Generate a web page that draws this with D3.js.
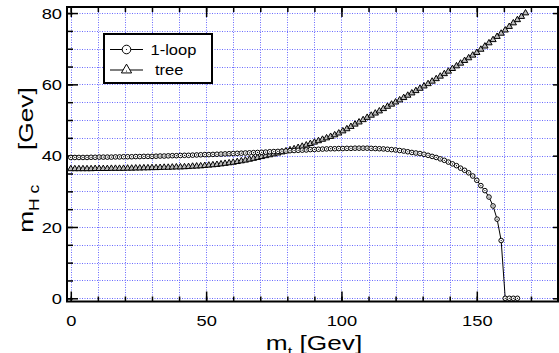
<!DOCTYPE html>
<html>
<head>
<meta charset="utf-8">
<script src="https://cdn.jsdelivr.net/npm/d3@7"></script>
<style>
  body { margin: 0; background: #fff; }
  svg { display: block; }
  text { font-family: "Liberation Sans", Arial, sans-serif; fill: #000; }
</style>
</head>
<body>
<div id="chart"></div>
<script>
// top mass values (x), shared by both curves
var mT = [0,1.5,3,4.5,6,7.5,9,10.5,12,13.5,15,16.5,18,19.5,21,22.5,24,25.5,27,28.5,
  30,31.5,33,34.5,36,37.5,39,40.5,42,43.5,45,46.5,48,49.5,51,52.5,54,55.5,57,58.5,
  60,61.5,63,64.5,66,67.5,69,70.5,72,73.5,75,76.5,78,79.5,81,82.5,84,85.5,87,88.5,
  90,91.5,93,94.5,96,97.5,99,100.5,102,103.5,105,106.5,108,109.5,111,112.5,114,115.5,117,118.5,
  120,121.5,123,124.5,126,127.5,129,130.5,132,133.5,135,136.5,138,139.5,141,142.5,144,145.5,147,148.5,
  150,151.5,153,154.5,156,157.5,159,160.5,162,163.5,165,166.5,168];

// 1-loop m_Hc
var loopVals = [39.5,39.5,39.5,39.5,39.5,39.55,39.55,39.6,39.6,39.6,
  39.6,39.65,39.65,39.7,39.7,39.7,39.75,39.75,39.8,39.8,
  39.8,39.85,39.9,39.9,39.95,40.0,40.0,40.05,40.1,40.1,
  40.15,40.2,40.25,40.3,40.3,40.35,40.4,40.45,40.5,40.55,
  40.6,40.65,40.7,40.75,40.8,40.85,40.9,40.95,41.0,41.1,
  41.15,41.2,41.25,41.3,41.4,41.45,41.5,41.55,41.6,41.7,
  41.75,41.8,41.85,41.9,41.95,41.95,42.0,42.0,42.05,42.05,
  42.1,42.1,42.1,42.1,42.05,42.0,41.95,41.9,41.8,41.7,
  41.6,41.45,41.3,41.1,40.9,40.75,40.6,40.4,40.1,39.8,
  39.5,39.1,38.7,38.2,37.7,37.2,36.5,35.9,35.2,34.3,
  33.1,31.6,30.2,28.4,25.9,22.2,16.2,0,0,0,
  0];

// tree level m_Hc
var treeVals = [36.3,36.3,36.3,36.3,36.3,36.3,36.35,36.35,36.35,36.35,
  36.4,36.4,36.4,36.4,36.45,36.45,36.5,36.5,36.55,36.55,
  36.6,36.6,36.65,36.7,36.7,36.75,36.8,36.8,36.85,36.9,
  37.0,37.05,37.1,37.2,37.3,37.4,37.5,37.65,37.8,37.95,
  38.1,38.3,38.5,38.7,38.95,39.2,39.45,39.7,39.95,40.2,
  40.45,40.7,41.0,41.3,41.6,41.9,42.25,42.6,42.95,43.35,
  43.75,44.15,44.55,44.95,45.35,45.8,46.3,46.9,47.5,48.15,
  48.8,49.4,50.05,50.7,51.3,51.9,52.5,53.15,53.8,54.4,
  55.0,55.6,56.25,56.9,57.55,58.2,58.85,59.5,60.15,60.85,
  61.55,62.25,62.95,63.65,64.4,65.15,65.9,66.65,67.4,68.15,
  68.9,69.8,70.7,71.6,72.5,73.4,74.3,75.2,76.2,77.2,
  78.1,79.0,80.0];

var xMajorTicks = [0, 50, 100, 150];
var xMinorTicks = [0,10,20,30,40,50,60,70,80,90,100,110,120,130,140,150,160,170];
var yMajorTicks = [0, 20, 40, 60, 80];
var yMinorTicks = [0,5,10,15,20,25,30,35,40,45,50,55,60,65,70,75,80];
var seriesNames = ['1-loop', 'tree'];

var W = 559, H = 353;
// plot box (window.top is taken, so prefix these)
var pLeft = 67, pRight = 558, pTop = 7, pBottom = 301.5;
var stretch = 1.22; // the original glyphs are drawn wide

var svg = d3.select('#chart').append('svg')
  .attr('width', W)
  .attr('height', H);

var x = d3.scaleLinear().domain([-1.4, 180]).range([pLeft, pRight]);
var y = d3.scaleLinear().domain([-0.9, 81.7]).range([pBottom, pTop]);

// dotted blue grid
var grid = svg.append('g').attr('stroke', '#6a6aff').attr('stroke-width', 1)
  .attr('stroke-dasharray', '1,1.5');
grid.selectAll('.vg').data(xMinorTicks).enter().append('line')
  .attr('x1', function (d) { return Math.round(x(d)) + 0.5; })
  .attr('x2', function (d) { return Math.round(x(d)) + 0.5; })
  .attr('y1', pTop).attr('y2', pBottom);
grid.selectAll('.hg').data(yMinorTicks).enter().append('line')
  .attr('y1', function (d) { return Math.round(y(d)) + 0.5; })
  .attr('y2', function (d) { return Math.round(y(d)) + 0.5; })
  .attr('x1', pLeft).attr('x2', pRight);

// axes: ticks point inwards
function styleAxis(g) {
  g.select('.domain').remove();
  g.selectAll('line').attr('stroke', '#000').attr('stroke-width', 1.5);
}
svg.append('g').attr('transform', 'translate(0,' + pBottom + ')')
  .call(d3.axisBottom(x).tickValues(xMinorTicks).tickSize(-5).tickFormat(''))
  .call(styleAxis);
var xAxis = svg.append('g').attr('transform', 'translate(0,' + pBottom + ')')
  .call(d3.axisBottom(x).tickValues(xMajorTicks).tickSize(-10).tickPadding(0))
  .call(styleAxis);
svg.append('g').attr('transform', 'translate(0,' + pTop + ')')
  .call(d3.axisTop(x).tickValues(xMinorTicks).tickSize(-5).tickFormat(''))
  .call(styleAxis);
svg.append('g').attr('transform', 'translate(0,' + pTop + ')')
  .call(d3.axisTop(x).tickValues(xMajorTicks).tickSize(-10).tickFormat(''))
  .call(styleAxis);
svg.append('g').attr('transform', 'translate(' + pLeft + ',0)')
  .call(d3.axisLeft(y).tickValues(yMinorTicks).tickSize(-6).tickFormat(''))
  .call(styleAxis);
var yAxis = svg.append('g').attr('transform', 'translate(' + pLeft + ',0)')
  .call(d3.axisLeft(y).tickValues(yMajorTicks).tickSize(-11).tickPadding(0))
  .call(styleAxis);
svg.append('g').attr('transform', 'translate(' + pRight + ',0)')
  .call(d3.axisRight(y).tickValues(yMajorTicks).tickSize(-5).tickFormat(''))
  .call(styleAxis);

// tick labels, widened
xAxis.selectAll('text')
  .attr('font-size', 15).attr('font-family', null)
  .attr('y', 0).attr('dy', null)
  .attr('transform', 'translate(0,24.5) scale(' + stretch + ',1)');
yAxis.selectAll('text')
  .attr('font-size', 15).attr('font-family', null)
  .attr('x', 0).attr('dy', '0.35em')
  .attr('transform', 'translate(-5,0) scale(' + stretch + ',1)');

// frame
svg.append('rect')
  .attr('x', pLeft).attr('y', pTop)
  .attr('width', pRight - pLeft).attr('height', pBottom - pTop)
  .attr('fill', 'none').attr('stroke', '#000').attr('stroke-width', 2);

// curves
var loopPts = loopVals.map(function (v, i) { return [mT[i], v]; });
var treePts = treeVals.map(function (v, i) { return [mT[i], v]; });
var line = d3.line()
  .x(function (d) { return x(d[0]); })
  .y(function (d) { return y(d[1]); });

svg.append('path').datum(treePts).attr('d', line)
  .attr('fill', 'none').attr('stroke', '#000').attr('stroke-width', 1);
svg.append('path').datum(loopPts).attr('d', line)
  .attr('fill', 'none').attr('stroke', '#000').attr('stroke-width', 1);

// triangles overlap a lot, the original shows them grey inside
var triangle = d3.symbol().type(d3.symbolTriangle).size(17);
svg.append('g').selectAll('path').data(treePts).enter().append('path')
  .attr('d', triangle)
  .attr('transform', function (d) { return 'translate(' + x(d[0]) + ',' + y(d[1]) + ')'; })
  .attr('fill', '#bdbdbd').attr('stroke', '#000').attr('stroke-width', 1);

var circ = svg.append('g').selectAll('g').data(loopPts).enter().append('g')
  .attr('transform', function (d) { return 'translate(' + x(d[0]) + ',' + y(d[1]) + ')'; });
circ.append('circle').attr('r', 2.3)
  .attr('fill', '#fff').attr('stroke', '#000').attr('stroke-width', 1);
circ.append('circle').attr('r', 0.6).attr('fill', '#000');

// legend
var legend = svg.append('g');
legend.append('rect')
  .attr('x', 104).attr('y', 34).attr('width', 108).attr('height', 49)
  .attr('fill', '#fff').attr('stroke', '#000').attr('stroke-width', 2);
seriesNames.forEach(function (name, i) {
  var ly = 49.5 + i * 20.5;
  legend.append('line').attr('x1', 110).attr('x2', 143).attr('y1', ly).attr('y2', ly)
    .attr('stroke', '#000').attr('stroke-width', 1.2);
  if (i === 0) {
    legend.append('circle').attr('cx', 126.5).attr('cy', ly).attr('r', 4.3)
      .attr('fill', '#fff').attr('stroke', '#000').attr('stroke-width', 1);
  } else {
    legend.append('path').attr('d', d3.symbol().type(d3.symbolTriangle).size(45))
      .attr('transform', 'translate(126.5,' + ly + ')')
      .attr('fill', '#fff').attr('stroke', '#000').attr('stroke-width', 1);
  }
  legend.append('circle').attr('cx', 126.5).attr('cy', ly + (i ? 1 : 0)).attr('r', 0.6).attr('fill', '#000');
  legend.append('text')
    .attr('transform', 'translate(' + (i ? 155 : 150.5) + ',' + (ly + 5) + ') scale(1.1,1)')
    .attr('font-size', 15)
    .text(name);
});

// axis titles
var xt = svg.append('text')
  .attr('transform', 'translate(314,350) scale(1.25,1)')
  .attr('text-anchor', 'middle')
  .attr('font-size', 21);
xt.append('tspan').text('m');
xt.append('tspan').attr('font-size', 13).attr('dy', 6).text('t');
xt.append('tspan').attr('dy', -6).text(' [Gev]');

var yt = svg.append('text')
  .attr('transform', 'translate(33,160) rotate(-90) scale(1.25,1)')
  .attr('text-anchor', 'middle')
  .attr('font-size', 21);
yt.append('tspan').text('m');
yt.append('tspan').attr('font-size', 14).attr('dy', 6).text('H c');
yt.append('tspan').attr('dy', -6).attr('dx', 22).text(' [Gev]');
</script>
</body>
</html>
